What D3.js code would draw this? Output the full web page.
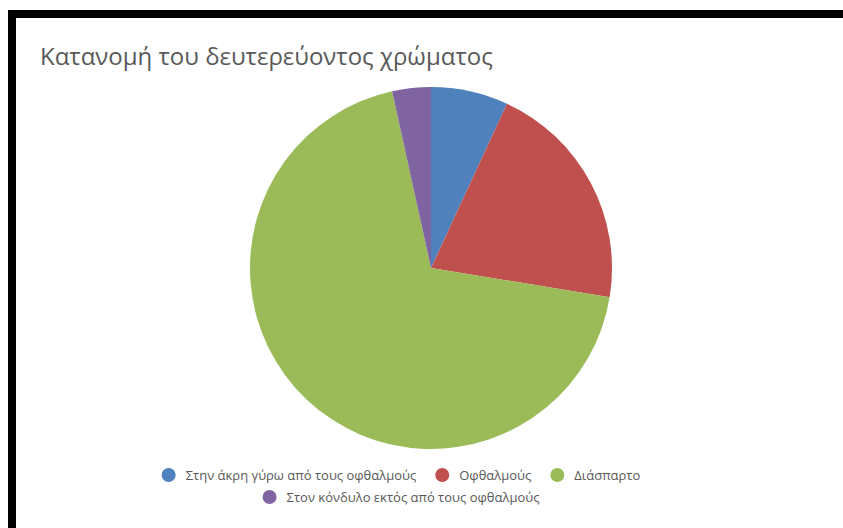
<!DOCTYPE html>
<html>
<head>
<meta charset="utf-8">
<script src="https://cdn.jsdelivr.net/npm/d3@7/dist/d3.min.js"></script>
<style>
  html, body { margin: 0; padding: 0; background: #fff; }
  svg { display: block; }
</style>
</head>
<body>
<svg id="chart" width="843" height="528"></svg>
<script>
// Secondary colour distribution (counts per category)
const categories = [
  "Στην άκρη γύρω από τους οφθαλμούς",
  "Οφθαλμούς",
  "Διάσπαρτο",
  "Στον κόνδυλο εκτός από τους οφθαλμούς"
];
const counts = [2, 6, 20, 1];
const colors = ["#4F81BD", "#C0504D", "#9BBB59", "#8064A2"];
const title = "Κατανομή του δευτερεύοντος χρώματος";

const svg = d3.select("#chart");
const W = 843, H = 528;
const font = "'Open Sans', 'Noto Sans', sans-serif";

// Frame: thick black band along the top and left edges
svg.append("rect").attr("x", 0).attr("y", 0).attr("width", W).attr("height", H).attr("fill", "#fff");
svg.append("rect").attr("x", 8).attr("y", 10).attr("width", W - 8).attr("height", 8).attr("fill", "#000");
svg.append("rect").attr("x", 8).attr("y", 10).attr("width", 8).attr("height", H - 10).attr("fill", "#000");

// Title
const t = svg.append("text")
  .attr("x", 40).attr("y", 65)
  .attr("font-family", font)
  .attr("font-size", 24)
  .attr("fill", "#595959")
  .text(title);
const tw = t.node().getComputedTextLength();
t.attr("font-size", 24 * 453 / tw);

// Pie
const data = categories.map((c, i) => ({ name: c, value: counts[i], color: colors[i] }));
const pie = d3.pie().value(d => d.value).sort(null);
const arc = d3.arc().innerRadius(0).outerRadius(181);
const cx = 431, cy = 268;

svg.append("g")
  .attr("transform", `translate(${cx},${cy})`)
  .selectAll("path")
  .data(pie(data))
  .join("path")
  .attr("d", arc)
  .attr("fill", d => d.data.color);

// Legend: items flow into centred rows
const legendCenter = 401, rowY0 = 475, rowGap = 22, maxRow = 600;
const markerR = 7, textGap = 10, itemGap = 19;
const lg = svg.append("g");
const items = data.map(d => {
  const g = lg.append("g");
  g.append("circle").attr("r", markerR).attr("cx", markerR).attr("cy", 0).attr("fill", d.color);
  const tx = g.append("text")
    .attr("x", markerR * 2 + textGap).attr("y", 0)
    .attr("dy", "0.35em")
    .attr("font-family", font)
    .attr("font-size", 13)
    .attr("fill", "#595959")
    .text(d.name);
  return { g, w: markerR * 2 + textGap + tx.node().getComputedTextLength() };
});
const rows = [];
let cur = [], curW = 0;
items.forEach(it => {
  const add = cur.length ? itemGap + it.w : it.w;
  if (cur.length && curW + add > maxRow) { rows.push({ items: cur, w: curW }); cur = [it]; curW = it.w; }
  else { cur.push(it); curW += add; }
});
if (cur.length) rows.push({ items: cur, w: curW });
rows.forEach((r, ri) => {
  let x = legendCenter - r.w / 2;
  r.items.forEach(it => {
    it.g.attr("transform", `translate(${x},${rowY0 + ri * rowGap})`);
    x += it.w + itemGap;
  });
});
</script>
</body>
</html>
